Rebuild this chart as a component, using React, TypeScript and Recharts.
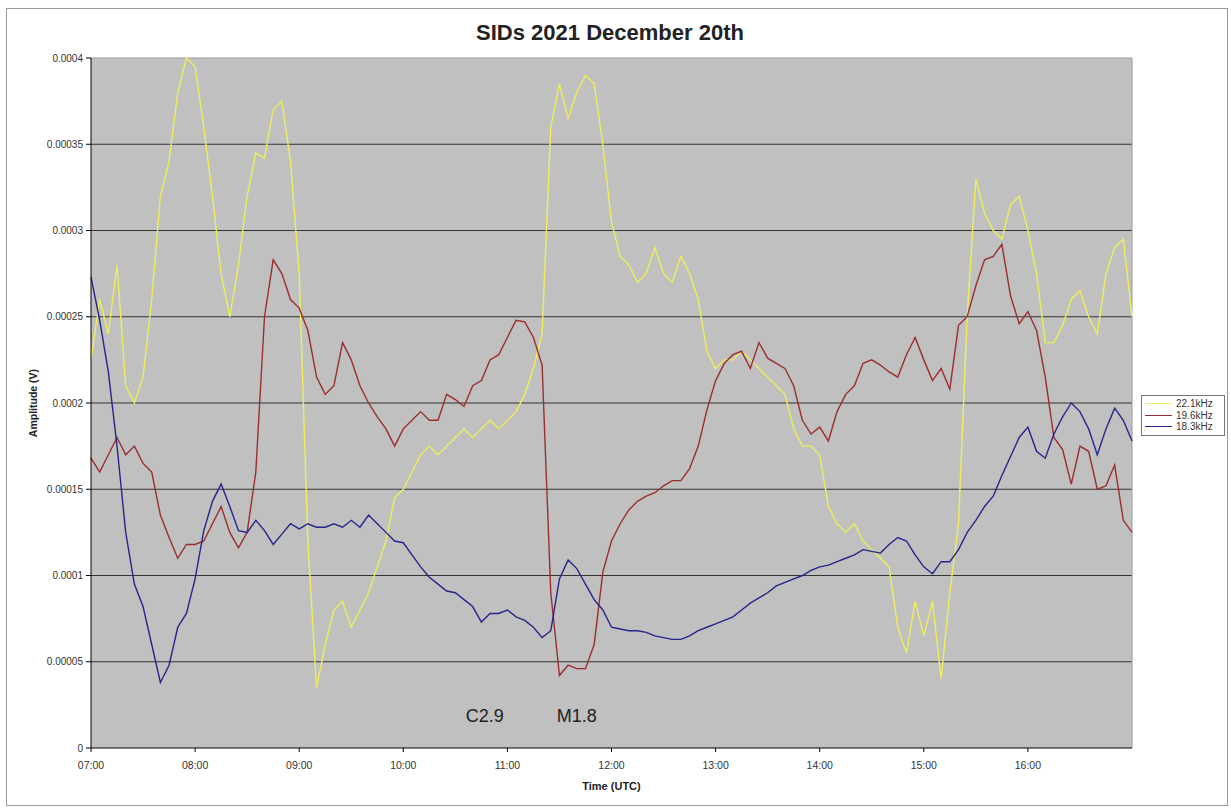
import { LineChart, Line, XAxis, YAxis, CartesianGrid, Legend, ReferenceLine, ReferenceDot } from 'recharts'

const FONT = '"Liberation Sans", Arial, sans-serif'

// amplitudes in units of 1e-5 V, one reading every 5 minutes from 07:00 to 17:00
const amp221 = [
  22.5, 26, 24, 28, 21, 20, 21.5, 26, 32, 34, 38, 40,
  39.5, 36, 32, 27.5, 25, 28, 32, 34.5, 34.2, 37, 37.5, 34,
  27.5, 12, 3.5, 6, 8, 8.5, 7, 8, 9, 10.5, 12, 14.5,
  15, 16, 17, 17.5, 17, 17.5, 18, 18.5, 18, 18.5, 19, 18.5,
  19, 19.5, 20.5, 22, 24, 36, 38.5, 36.5, 38, 39, 38.5, 35,
  30.5, 28.5, 28, 27, 27.5, 29, 27.5, 27, 28.5, 27.5, 26, 23,
  22, 22.5, 22.5, 23, 22.5, 22, 21.5, 21, 20.5, 18.5, 17.5, 17.5,
  17, 14, 13, 12.5, 13, 12, 11.5, 11, 10.5, 7, 5.5, 8.5,
  6.5, 8.5, 4, 9, 13, 25, 33, 31, 30, 29.5, 31.5, 32,
  30, 27.5, 23.5, 23.5, 24.5, 26, 26.5, 25, 24, 27.5, 29, 29.5, 25,
]
const amp196 = [
  16.8, 16, 17, 18, 17, 17.5, 16.5, 16, 13.5, 12.2, 11, 11.8,
  11.8, 12, 13, 14, 12.5, 11.6, 12.5, 16, 25, 28.3, 27.5, 26,
  25.5, 24.2, 21.5, 20.5, 21, 23.5, 22.5, 21, 20, 19.2, 18.5, 17.5,
  18.5, 19, 19.5, 19, 19, 20.5, 20.2, 19.8, 21, 21.3, 22.5, 22.8,
  23.8, 24.8, 24.7, 23.8, 22.2, 9, 4.2, 4.8, 4.6, 4.6, 6, 10.2,
  12, 13, 13.8, 14.3, 14.6, 14.8, 15.2, 15.5, 15.5, 16.2, 17.5, 19.6,
  21.3, 22.3, 22.8, 23, 22, 23.5, 22.6, 22.3, 22, 21, 19, 18.2,
  18.6, 17.8, 19.5, 20.5, 21, 22.3, 22.5, 22.2, 21.8, 21.5, 22.8, 23.8,
  22.5, 21.3, 22, 20.8, 24.5, 25, 26.8, 28.3, 28.5, 29.2, 26.2, 24.6,
  25.3, 24.2, 21.5, 18, 17.3, 15.3, 17.5, 17.2, 15, 15.2, 16.4, 13.2, 12.5,
]
const amp183 = [
  27.3, 24.8, 21.8, 17.5, 12.5, 9.5, 8.2, 6, 3.8, 4.8, 7, 7.8,
  9.8, 12.6, 14.3, 15.3, 14, 12.6, 12.5, 13.2, 12.6, 11.8, 12.4, 13,
  12.7, 13, 12.8, 12.8, 13, 12.8, 13.2, 12.8, 13.5, 13, 12.5, 12,
  11.9, 11.2, 10.5, 9.9, 9.5, 9.1, 9, 8.6, 8.2, 7.3, 7.8, 7.8,
  8, 7.6, 7.4, 7, 6.4, 6.8, 9.8, 10.9, 10.4, 9.5, 8.6, 8,
  7, 6.9, 6.8, 6.8, 6.7, 6.5, 6.4, 6.3, 6.3, 6.5, 6.8, 7,
  7.2, 7.4, 7.6, 8, 8.4, 8.7, 9, 9.4, 9.6, 9.8, 10, 10.3,
  10.5, 10.6, 10.8, 11, 11.2, 11.5, 11.4, 11.3, 11.8, 12.2, 12, 11.2,
  10.5, 10.1, 10.8, 10.8, 11.5, 12.5, 13.2, 14, 14.6, 15.8, 16.9, 18,
  18.6, 17.2, 16.8, 18.2, 19.2, 20, 19.5, 18.5, 17, 18.5, 19.7, 19, 17.8,
]

const seriesNames = ['22.1kHz', '19.6kHz', '18.3kHz']
const yTicks = [0, 5, 10, 15, 20, 25, 30, 35, 40]
const yTickLabels = ['0', '0.00005', '0.0001', '0.00015', '0.0002', '0.00025', '0.0003', '0.00035', '0.0004']
const xTicks = [0, 60, 120, 180, 240, 300, 360, 420, 480, 540]
const xTickLabels = ['07:00', '08:00', '09:00', '10:00', '11:00', '12:00', '13:00', '14:00', '15:00', '16:00']
const flares = [
  { name: 'C2.9', t: 227, v: 1.9 },
  { name: 'M1.8', t: 280, v: 1.9 },
]

const data = amp221.map((v, i) => ({ t: i * 5, f221: v, f196: amp196[i], f183: amp183[i] }))

function LegendBox({ payload }: any) {
  const items = [...(payload ?? [])].sort(
    (a: any, b: any) => seriesNames.indexOf(a.value) - seriesNames.indexOf(b.value),
  )
  return (
    <div style={{ border: '1px solid #777', background: '#fff', padding: '2px 3px', width: 76 }}>
      {items.map((p: any) => (
        <div
          key={p.value}
          style={{ display: 'flex', alignItems: 'center', height: 11.5, fontSize: 10, fontFamily: FONT, color: '#333' }}
        >
          <span style={{ display: 'inline-block', width: 27, borderTop: `1.5px solid ${p.color}`, marginRight: 4 }} />
          {p.value}
        </div>
      ))}
    </div>
  )
}

export default function App() {
  return (
    <div style={{ position: 'absolute', left: 0, top: 0, width: 1231, height: 808, background: '#fff' }}>
      <div
        style={{ position: 'absolute', left: 6, top: 8, width: 1220, height: 796, border: '1px solid #999' }}
      />
      <div
        style={{
          position: 'absolute', left: 0, top: 20, width: 1220, textAlign: 'center',
          fontFamily: FONT, fontWeight: 'bold', fontSize: 22, lineHeight: '26px', color: '#222',
        }}
      >
        SIDs 2021 December 20th
      </div>
      <div style={{ position: 'absolute', left: 0, top: 0 }}>
        <LineChart width={1231} height={808} data={data} margin={{ top: 58, right: 99, left: 31, bottom: 10 }}>
          <CartesianGrid fill="#C0C0C0" vertical={false} stroke="#333" horizontalValues={[5, 10, 15, 20, 25, 30, 35]} />
          <XAxis
            dataKey="t"
            type="number"
            domain={[0, 600]}
            ticks={xTicks}
            tickFormatter={(v: number) => xTickLabels[xTicks.indexOf(v)]}
            height={50}
            stroke="#000"
            tickSize={4}
            tickMargin={10}
            tick={{ fontSize: 10.5, fill: '#333', fontFamily: FONT }}
            label={{ value: 'Time (UTC)', position: 'insideBottom', offset: 8, fontSize: 11, fontWeight: 'bold', fill: '#222', fontFamily: FONT }}
          />
          <YAxis
            type="number"
            domain={[0, 40]}
            ticks={yTicks}
            tickFormatter={(v: number) => yTickLabels[yTicks.indexOf(v)]}
            width={60}
            stroke="#000"
            tickSize={5}
            tickMargin={3}
            tick={{ fontSize: 10, fill: '#333', fontFamily: FONT }}
            label={{ value: 'Amplitude (V)', angle: -90, position: 'insideLeft', offset: 2, style: { textAnchor: 'middle' }, fontSize: 10.5, fontWeight: 'bold', fill: '#222', fontFamily: FONT }}
          />
          <ReferenceLine y={40} stroke="#999" />
          <ReferenceLine x={600} stroke="#999" />
          <Legend layout="vertical" align="center" verticalAlign="middle" content={<LegendBox />}
            wrapperStyle={{ left: 1141, top: 395, width: 84 }} />
          <Line name="22.1kHz" dataKey="f221" stroke="#EEEE5A" strokeWidth={1.4} dot={false} isAnimationActive={false} />
          <Line name="19.6kHz" dataKey="f196" stroke="#9B2D2D" strokeWidth={1.4} dot={false} isAnimationActive={false} />
          <Line name="18.3kHz" dataKey="f183" stroke="#25258C" strokeWidth={1.4} dot={false} isAnimationActive={false} />
          {flares.map((f) => (
            <ReferenceDot key={f.name} x={f.t} y={f.v} r={0} stroke="none"
              label={{ value: f.name, position: 'center', fontSize: 18, fill: '#222', fontFamily: FONT }} />
          ))}
        </LineChart>
      </div>
    </div>
  )
}
